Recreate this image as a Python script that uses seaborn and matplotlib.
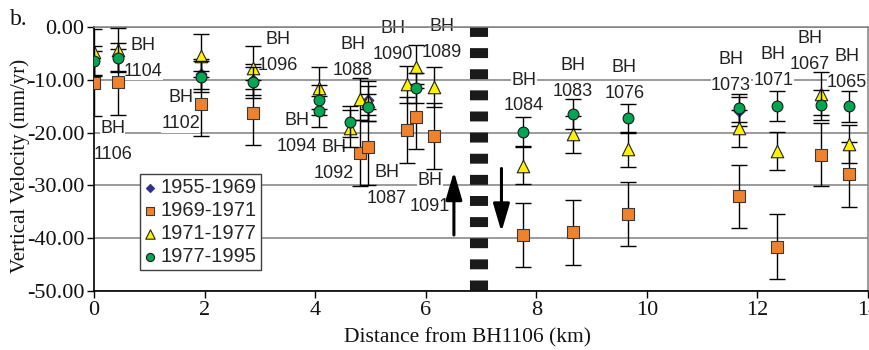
import numpy as np
import pandas as pd
import seaborn as sns
import matplotlib.pyplot as plt
from matplotlib.ticker import FuncFormatter

# 1955-1969 (mostly hidden behind the 1977-1995 circles)
dia_x = [1.93, 2.87, 4.96, 11.66]
dia_y = [-8.9, -10.0, -13.9, -16.0]
dia_err = [2.8, 2.9, 2.8, 2.7]

# 1969-1971
sq_x = [0.00, 0.43, 1.93, 2.87, 4.81, 4.96, 5.67, 5.82, 6.15, 7.76, 8.67, 9.66, 11.66, 12.35, 13.15, 13.65]
sq_y = [-10.7, -10.4, -14.5, -16.2, -23.9, -22.8, -19.5, -17.0, -20.6, -39.4, -38.9, -35.4, -32.1, -41.6, -24.2, -27.9]
sq_err = [6.2, 6.2, 6.2, 6.2, 6.3, 7.2, 6.3, 6.2, 6.2, 6.1, 6.1, 6.1, 6.0, 6.1, 6.0, 6.2]

# 1971-1977
tri_x = [0.00, 0.43, 1.93, 2.87, 4.07, 4.63, 4.81, 4.96, 5.67, 5.82, 6.15, 7.76, 8.67, 9.66, 11.66, 12.35, 13.15, 13.65]
tri_y = [-4.7, -4.3, -5.4, -7.7, -11.6, -19.2, -13.7, -14.0, -10.8, -7.5, -11.3, -26.3, -20.3, -23.2, -19.2, -23.4, -12.6, -22.2]
tri_err = [4.3, 4.1, 4.1, 4.1, 4.0, 3.5, 4.0, 3.8, 3.5, 4.1, 3.8, 3.5, 3.5, 3.4, 3.5, 3.6, 4.0, 3.6]

# 1977-1995
cir_x = [0.00, 0.43, 1.93, 2.87, 4.07, 4.07, 4.63, 4.96, 5.82, 7.76, 8.67, 9.66, 11.66, 12.35, 13.15, 13.65]
cir_y = [-6.4, -5.8, -9.4, -10.5, -13.8, -16.0, -17.9, -15.2, -11.6, -19.8, -16.5, -17.3, -15.3, -15.0, -14.8, -15.0]
cir_err = [2.8, 2.8, 2.9, 3.0, 2.8, 3.0, 2.9, 2.6, 2.8, 2.8, 2.9, 2.7, 2.6, 2.8, 2.8, 2.9]

# borehole names and where their labels sit (km, mm/yr, middle of the two lines)
bh_names = ['1106', '1104', '1102', '1096', '1094', '1092', '1088', '1090', '1089',
            '1087', '1091', '1084', '1083', '1076', '1073', '1071', '1067', '1065']
label_pos = [(0.34, -21.6), (0.89, -5.9), (1.57, -15.9), (3.33, -4.9), (3.67, -20.1),
             (4.34, -25.2), (4.68, -5.7), (5.41, -2.7), (6.29, -2.3), (5.30, -30.1),
             (6.08, -31.6), (7.78, -12.5), (8.66, -9.8), (9.59, -10.2), (11.52, -8.7),
             (12.29, -7.6), (12.95, -4.7), (13.62, -8.1)]

x_ticks = [0, 2, 4, 6, 8, 10, 12, 14]
y_ticks = [-50, -40, -30, -20, -10, 0]

sns.set_theme(style='white')
plt.rcParams['font.family'] = ['Liberation Serif', 'DejaVu Serif']
plt.rcParams['axes.unicode_minus'] = False

fig = plt.figure(figsize=(8.7, 3.5), dpi=100)
ax = fig.add_axes([94 / 870, 1 - 291 / 350, 774 / 870, 264 / 350])

series = [
    ('1955-1969', dia_x, dia_y, dia_err, 'D', '#2E3192', '#2E3192', 5.5),
    ('1969-1971', sq_x, sq_y, sq_err, 's', '#F0822E', '#3a3a3a', 8),
    ('1971-1977', tri_x, tri_y, tri_err, '^', '#FFF200', '#222222', 9),
    ('1977-1995', cir_x, cir_y, cir_err, 'o', '#00A651', '#1a1a1a', 7.8),
]

for i, (lab, xs, ys, es, mk, fc, ec, ms) in enumerate(series):
    df = pd.DataFrame({'x': xs, 'y': ys, 'err': es})
    ax.errorbar(df['x'], df['y'], yerr=df['err'], fmt='none', ecolor='black',
                elinewidth=1.0, capsize=6, capthick=1.0, zorder=3 + 2 * i)
    sns.scatterplot(data=df, x='x', y='y', marker=mk, s=ms ** 2, color=fc,
                    edgecolor=ec, linewidth=0.8, label=lab, ax=ax, zorder=4 + 2 * i)

# thick dashed divider and movement arrows
ax.plot([6.97, 6.97], [0, -50], color='#1a1a1a', lw=13,
        linestyle=(0, (0.55, 0.62)), dash_capstyle='butt', zorder=2)
arrow = dict(arrowstyle='-|>,head_length=1.7,head_width=0.5', color='black',
             lw=2.2, mutation_scale=10, shrinkA=0, shrinkB=0)
ax.annotate('', xy=(6.51, -27.4), xytext=(6.51, -39.4), arrowprops=arrow, zorder=3)
ax.annotate('', xy=(7.37, -38.8), xytext=(7.37, -26.8), arrowprops=arrow, zorder=3)

lab_font = dict(ha='center', va='center', fontsize=13, family='Liberation Sans',
                color='#222222', zorder=1.5,
                bbox=dict(facecolor='white', edgecolor='none', pad=0.1))
for name, (lx, ly) in zip(bh_names, label_pos):
    ax.text(lx, ly + 2.46, 'BH', **lab_font)
    ax.text(lx, ly - 2.46, name, **lab_font)

ax.set_xlim(0, 14)
ax.set_ylim(-50, 0)
ax.set_xticks(x_ticks)
ax.set_yticks(y_ticks)
ax.yaxis.set_major_formatter(FuncFormatter(lambda v, p: f'{v:.2f}'))
ax.tick_params(bottom=True, left=True, direction='out', length=5, width=1,
               color='black', labelsize=16, pad=2, labelcolor='#111111')

ax.yaxis.grid(True, color='#808080', lw=1.1)
ax.xaxis.grid(False)
ax.set_axisbelow(True)
for s in ['left', 'bottom']:
    ax.spines[s].set_color('black')
    ax.spines[s].set_linewidth(1.2)
for s in ['top', 'right']:
    ax.spines[s].set_color('#808080')
    ax.spines[s].set_linewidth(1.1)

ax.set_xlabel('Distance from BH1106 (km)', fontsize=15.5, color='#111111')
ax.set_ylabel('Vertical Velocity (mm/yr)', fontsize=15, color='#111111')
ax.xaxis.set_label_coords(0.483, -0.14)
ax.yaxis.set_label_coords(-0.083, 0.473)

leg = ax.legend(loc='upper left', bbox_to_anchor=(0.059, 0.443), borderaxespad=0,
                prop={'family': 'Liberation Sans', 'size': 14.5}, frameon=True,
                fancybox=False, edgecolor='#404040', framealpha=1, borderpad=0.2,
                labelspacing=0.2, handlelength=0.6, handletextpad=0.25, markerscale=0.75)
leg.get_frame().set_linewidth(1.0)
leg.set_zorder(20)

fig.text(10 / 870, 1 - 25 / 350, 'b.', fontsize=17, va='baseline', color='#111111')

fig.savefig('out.png', dpi=100)
